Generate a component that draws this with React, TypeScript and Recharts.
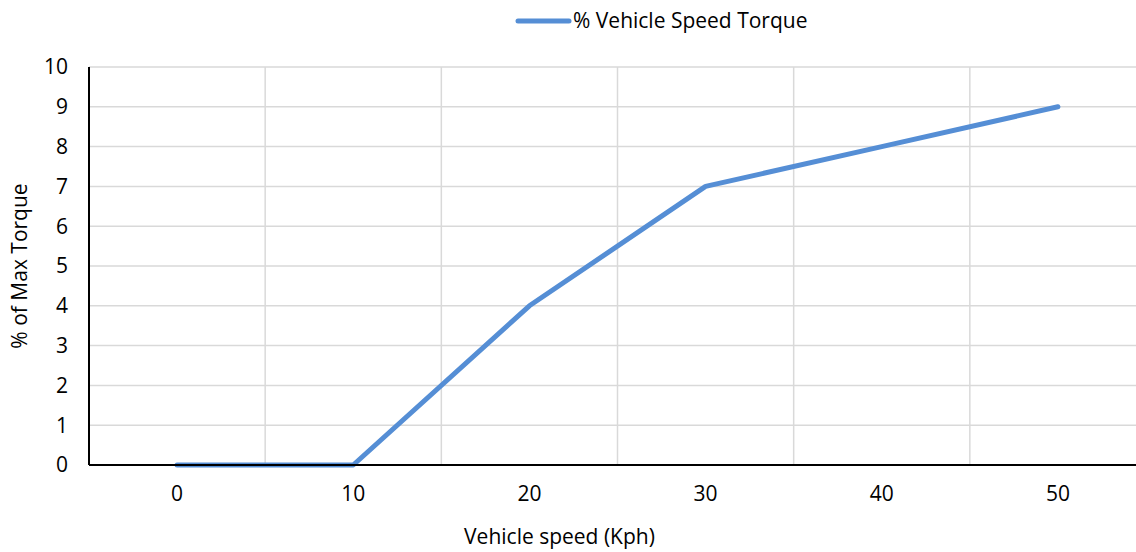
import React from 'react';
import { LineChart, Line, XAxis, YAxis, CartesianGrid, Legend, ReferenceLine, Label } from 'recharts';

const speeds = [0, 10, 20, 30, 40, 50];
const torquePct = [0, 0, 4, 7, 8, 9];
const xTicks = [0, 10, 20, 30, 40, 50];
const yTicks = [0, 1, 2, 3, 4, 5, 6, 7, 8, 9, 10];
const categoryBoundaries = [5, 15, 25, 35, 45];
const seriesName = '% Vehicle Speed Torque';

const data = speeds.map((s, i) => ({ speed: s, torque: torquePct[i] }));

const FONT = '"Open Sans", sans-serif';
const FS = 21;
const TEXT = '#000000';
const GRID = '#d9d9d9';
const LINE = '#558ed5';

export default function App() {
  return (
    <div style={{ position: 'absolute', left: 0, top: 0, width: 1136, height: 552, overflow: 'hidden', background: '#fff', fontFamily: FONT }}>
      <LineChart width={1160} height={552} data={data} margin={{ top: 38, right: 14, bottom: 0, left: 0 }}>
        <CartesianGrid vertical={false} stroke={GRID} strokeWidth={1.5} />
        {categoryBoundaries.map((b) => (
          <ReferenceLine key={b} x={b} stroke={GRID} strokeWidth={1.5} ifOverflow="extendDomain" />
        ))}
        <XAxis
          dataKey="speed"
          type="number"
          domain={[-5, 55]}
          ticks={xTicks}
          tickLine={false}
          axisLine={{ stroke: TEXT, strokeWidth: 2 }}
          tick={{ fill: TEXT, fontSize: FS, fontFamily: FONT }}
          tickMargin={15}
          height={87}
          allowDataOverflow
        >
          <Label value="Vehicle speed (Kph)" position="insideBottom" offset={8} dx={-58} style={{ fill: TEXT, fontSize: FS, fontFamily: FONT }} />
        </XAxis>
        <YAxis
          type="number"
          domain={[0, 10]}
          ticks={yTicks}
          tickLine={false}
          axisLine={{ stroke: TEXT, strokeWidth: 2 }}
          tick={{ fill: TEXT, fontSize: FS, fontFamily: FONT }}
          tickMargin={15}
          width={89}
        >
          <Label value="% of Max Torque" angle={-90} position="insideLeft" offset={20} style={{ fill: TEXT, fontSize: FS, fontFamily: FONT, textAnchor: 'middle' }} />
        </YAxis>
        <Legend
          verticalAlign="top"
          align="left"
          wrapperStyle={{ position: 'absolute', top: 6, left: 515, width: 'auto' }}
          content={() => (
            <div style={{ display: 'flex', alignItems: 'center', fontFamily: FONT, fontSize: FS, color: TEXT, lineHeight: '29px' }}>
              <svg width={58} height={10}><line x1={3} y1={5} x2={54} y2={5} stroke={LINE} strokeWidth={5} strokeLinecap="round" /></svg>
              <span>{seriesName}</span>
            </div>
          )}
        />
        <Line
          dataKey="torque"
          name={seriesName}
          stroke={LINE}
          strokeWidth={5}
          strokeLinecap="round"
          strokeLinejoin="round"
          dot={false}
          activeDot={false}
          isAnimationActive={false}
        />
      </LineChart>
    </div>
  );
}
